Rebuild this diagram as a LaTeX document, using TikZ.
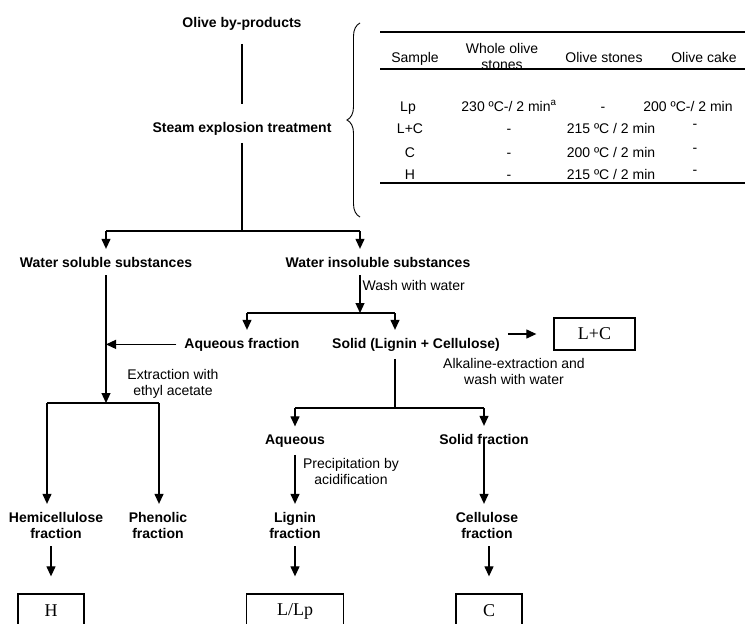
\documentclass[tikz,border=0pt]{standalone}
\usepackage{fontspec}
\setmainfont{Liberation Sans}
\newfontfamily\boxfont{Liberation Serif}
\usetikzlibrary{arrows.meta, decorations.pathreplacing}

\tikzset{
	lbl/.style={font=\fontsize{14}{16}\selectfont\bfseries, inner sep=0pt, outer sep=8pt, align=center},
	note/.style={font=\fontsize{14}{16}\selectfont, inner sep=0pt, align=center},
	cell/.style={font=\fontsize{14}{16}\selectfont, inner sep=0pt, anchor=base},
	sample/.style={draw, line width=1.3pt, font=\boxfont\fontsize{18}{20}\selectfont, inner sep=0pt, minimum height=34pt},
	arr/.style={-{Triangle[length=10pt, width=9pt]}},
	tobox/.style={arr, shorten >=17pt},
	rule/.style={line width=1.6pt}
}

\begin{document}
\begin{tikzpicture}[x=1pt, y=-1pt, line width=1.2pt]
	\useasboundingbox (0,0) rectangle (745,624);

	% flow
	\node[lbl, anchor=base] (olive)     at (242,27)  {Olive by-products};
	\node[lbl, anchor=base] (steam)     at (242,132) {Steam explosion treatment};
	\node[lbl, anchor=base] (soluble)   at (106,267) {Water soluble substances};
	\node[lbl, anchor=base] (insoluble) at (378,267) {Water insoluble substances};
	\node[lbl, anchor=base] (aqfrac)    at (242,348) {Aqueous fraction};
	\node[lbl, anchor=base] (solid)     at (416,348) {Solid (Lignin + Cellulose)};
	\node[lbl, anchor=base] (aqueous)   at (295,444) {Aqueous};
	\node[lbl, anchor=base] (solidfrac) at (484,444) {Solid fraction};
	\node[lbl] (hemi)      at (56,525)  {Hemicellulose\\fraction};
	\node[lbl] (phenolic)  at (158,525) {Phenolic\\fraction};
	\node[lbl] (lignin)    at (295,525) {Lignin\\fraction};
	\node[lbl] (cellulose) at (487,525) {Cellulose\\fraction};

	\node[sample, minimum width=81pt, minimum height=32pt] (lcbox) at (594.5,334) {L+C};
	\node[sample, minimum width=66pt] (hbox) at (51,611)  {H};
	\node[sample, minimum width=97pt] (lbox) at (295,611) {L/Lp};
	\node[sample, minimum width=66pt] (cbox) at (489,611) {C};

	\node[note, anchor=base west] (wash) at (362,290) {Wash with water};
	\node[note] (extract)  at (173,384) {Extraction with\\ethyl acetate};
	\node[note] (alkaline) at (514,371) {Alkaline-extraction and\\wash with water};
	\node[note] (precip)   at (351,471) {Precipitation by\\acidification};

	\coordinate (splitL) at (106,231);
	\coordinate (splitR) at (360,231);
	\coordinate (washL)  at (247,313);
	\coordinate (washR)  at (395,313);
	\coordinate (extL)   at (47,403);
	\coordinate (extM)   at (106,403);
	\coordinate (extR)   at (159,403);
	\coordinate (ligL)   at (295,408);
	\coordinate (ligR)   at (484,408);

	\draw[shorten <=6pt, shorten >=10pt] (olive.south) -- (olive.south |- steam.north);
	\draw (steam.south) -- (steam.south |- splitL);
	\draw (splitL) -- (splitR);
	\draw[arr] (splitL) -- (soluble.north);
	\draw[arr] (splitR) -- (splitR |- insoluble.north);

	\draw[arr] (insoluble.south -| splitR) -- (splitR |- washL);
	\draw (washL) -- (washR);
	\draw[arr] (washL) -- (washL |- aqfrac.north);
	\draw[arr] (washR) -- (washR |- solid.north);

	\draw[arr] (soluble.south) -- (extM);
	\draw[arr] (aqfrac.west) -- (aqfrac.west -| soluble.south);
	\draw (extL) -- (extR);
	\draw[arr] (extL) -- (extL |- hemi.north);
	\draw[arr] (extR) -- (extR |- phenolic.north);

	\draw[tobox] (solid.east |- lcbox) -- (lcbox.west);
	\draw (solid.south -| washR) -- (washR |- ligL);
	\draw (ligL) -- (ligR);
	\draw[arr] (ligL) -- (aqueous.north);
	\draw[arr] (ligR) -- (solidfrac.north);
	\draw[arr] (aqueous.south) -- (lignin.north);
	\draw[arr] (solidfrac.center) -- (solidfrac.center |- cellulose.north);

	\draw[tobox] (hemi.south -| hbox) -- (hbox.north);
	\draw[tobox] (lignin.south -| lbox) -- (lbox.north);
	\draw[tobox] (cellulose.south -| cbox) -- (cbox.north);

	% conditions table
	\draw[decorate, decoration={brace, amplitude=13pt}, line width=0.9pt] (360,217) -- (360,23);
	\draw[rule] (380,32)  -- (745,32);
	\draw[rule] (380,69)  -- (745,69);
	\draw[rule] (380,183) -- (745,183);

	\node[cell] (hsample) at (415,62) {Sample};
	\node[note] (hwhole)  at (502,56) {Whole olive\\stones};
	\node[cell] (hstones) at (604,62) {Olive stones};
	\node[cell] (hcake)   at (704,62) {Olive cake};

	\node[cell] (lp1) at (408,111) {Lp};
	\node[cell] (lp2) at (509,111) {230 ºC-/ 2 min\textsuperscript{a}};
	\node[cell] (lp3) at (603,111) {-};
	\node[cell] (lp4) at (688,111) {200 ºC-/ 2 min};

	\node[cell] (lc1) at (410,133) {L+C};
	\node[cell] (lc2) at (509,133) {-};
	\node[cell] (lc3) at (611,133) {215 ºC / 2 min};
	\node[cell] (lc4) at (695,128) {-};

	\node[cell] (c1) at (410,157) {C};
	\node[cell] (c2) at (509,157) {-};
	\node[cell] (c3) at (611,157) {200 ºC / 2 min};
	\node[cell] (c4) at (695,152) {-};

	\node[cell] (h1) at (410,179) {H};
	\node[cell] (h2) at (509,179) {-};
	\node[cell] (h3) at (611,179) {215 ºC / 2 min};
	\node[cell] (h4) at (695,174) {-};
\end{tikzpicture}
\end{document}
